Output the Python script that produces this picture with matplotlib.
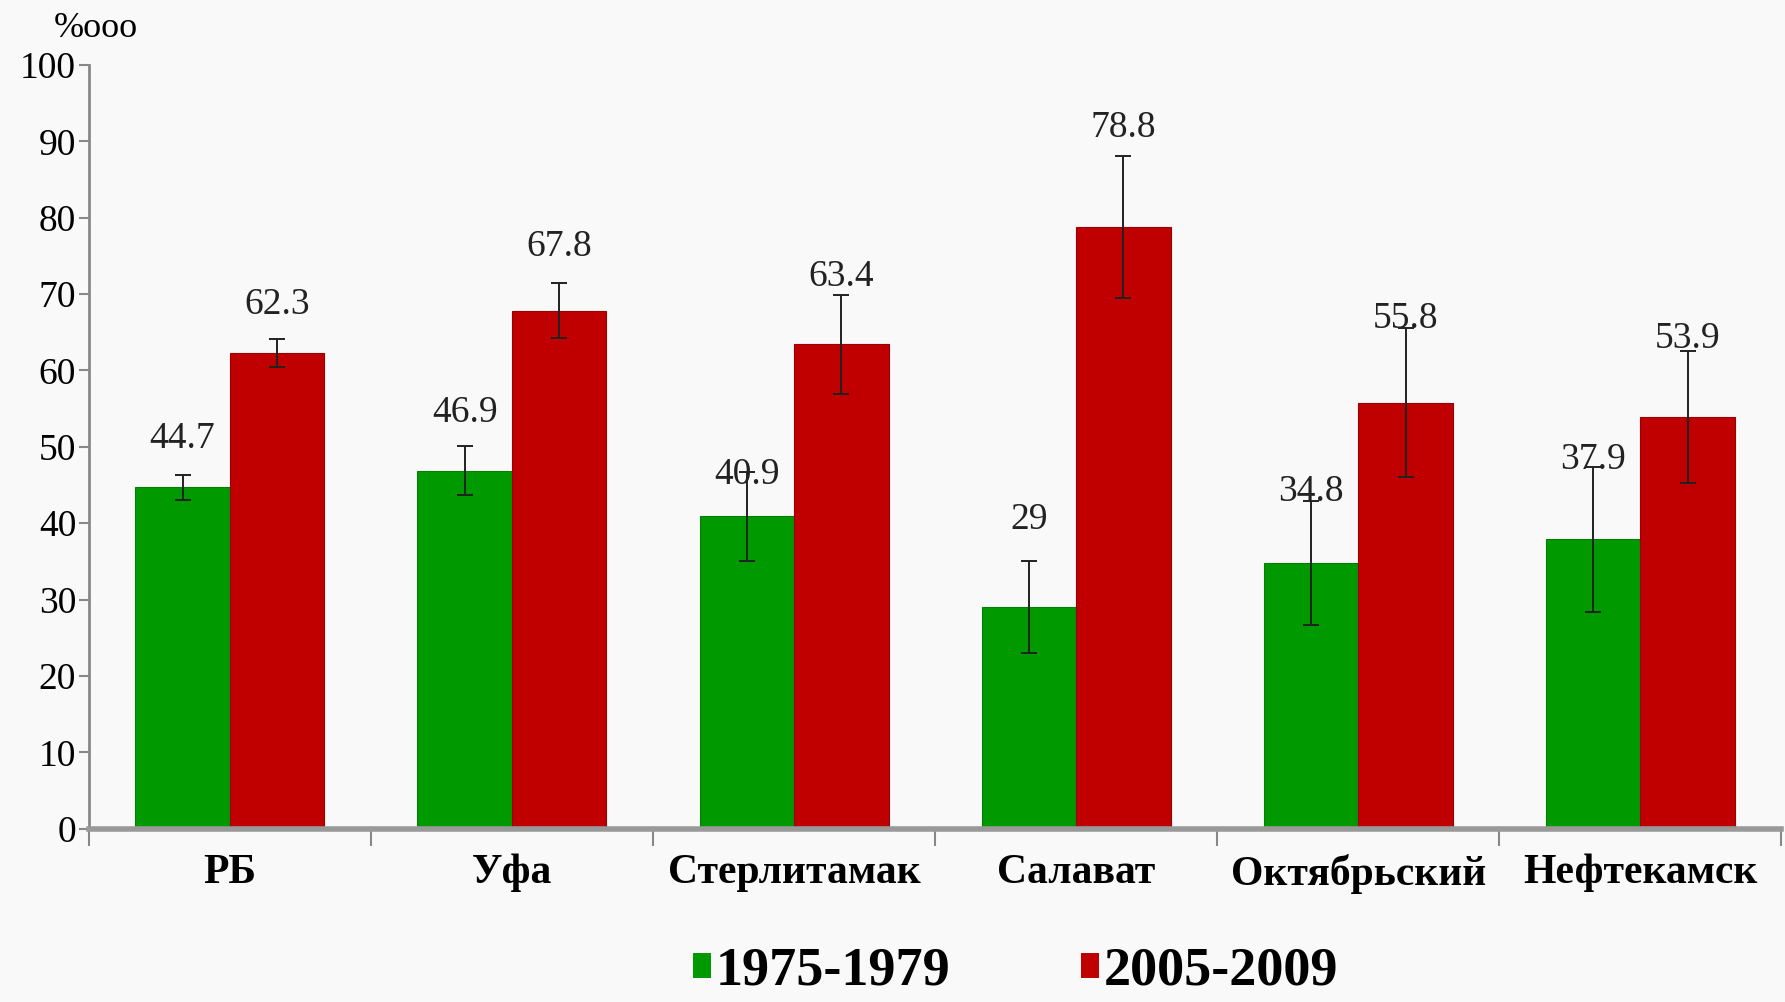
import matplotlib.pyplot as plt
from matplotlib.patches import Patch
import numpy as np

cities = ['РБ', 'Уфа', 'Стерлитамак', 'Салават', 'Октябрьский', 'Нефтекамск']
years = ['1975-1979', '2005-2009']

vals_old = [44.7, 46.9, 40.9, 29, 34.8, 37.9]
vals_new = [62.3, 67.8, 63.4, 78.8, 55.8, 53.9]
err_old = [1.6, 3.2, 5.8, 6.0, 8.1, 9.5]
err_new = [1.8, 3.6, 6.5, 9.3, 9.7, 8.6]

# where the value labels sit (as in the source, placed by hand)
lab_old = [51.1, 54.5, 46.3, 40.5, 44.1, 48.3]
lab_new = [68.6, 76.2, 72.3, 91.8, 66.8, 64.2]

green = '#009a00'
red = '#c00000'

plt.rcParams['font.family'] = ['Liberation Serif', 'DejaVu Serif']

fig = plt.figure(figsize=(17.85, 10.02), dpi=100, facecolor='#f9f9f9')
ax = fig.add_axes([0.0497, 0.1729, 0.9483, 0.7623])
ax.set_facecolor('#f9f9f9')

x = np.arange(len(cities))
w = 0.335

ekw = dict(ecolor='#222222', elinewidth=1.4, capsize=6, capthick=1.4)
ax.bar(x - w / 2, vals_old, w, color=green, edgecolor='#0a7a0a', lw=0.8,
       yerr=err_old, error_kw=ekw, zorder=2)
ax.bar(x + w / 2, vals_new, w, color=red, edgecolor='#9a0000', lw=0.8,
       yerr=err_new, error_kw=ekw, zorder=2)

for i in range(len(cities)):
    ax.text(x[i] - w / 2, lab_old[i], '%g' % vals_old[i], ha='center', va='center',
            fontsize=27, color='#222222', zorder=3)
    ax.text(x[i] + w / 2, lab_new[i], '%g' % vals_new[i], ha='center', va='center',
            fontsize=27, color='#222222', zorder=3)

ax.set_xlim(-0.5, len(cities) - 0.5)
ax.set_ylim(0, 100)
ax.set_yticks(range(0, 101, 10))
ax.tick_params(axis='y', labelsize=27, length=7, width=1.5, color='#888888', pad=2)

ax.set_xticks(x)
ax.set_xticklabels(cities, fontsize=30, fontweight='bold')
ax.tick_params(axis='x', length=0, pad=18)
ax.set_xticks(np.arange(-0.5, len(cities), 1), minor=True)
ax.tick_params(axis='x', which='minor', length=12, width=1.5, color='#888888')

for s in ['top', 'right']:
    ax.spines[s].set_visible(False)
ax.spines['left'].set_color('#888888')
ax.spines['left'].set_linewidth(2)
ax.spines['bottom'].set_color('#999999')
ax.spines['bottom'].set_linewidth(4)

fig.text(0.030, 0.972, '%ooo', fontsize=26, va='center', ha='left')

handles = [Patch(facecolor=green, edgecolor='none'), Patch(facecolor=red, edgecolor='none')]
fig.legend(handles, years, loc='center', bbox_to_anchor=(0.569, 0.03), ncol=2,
           frameon=False, prop={'size': 39, 'weight': 'bold'},
           handlelength=0.33, handleheight=0.33, handletextpad=0.1, columnspacing=2.4)

fig.savefig('out.png', dpi=100, facecolor=fig.get_facecolor())
